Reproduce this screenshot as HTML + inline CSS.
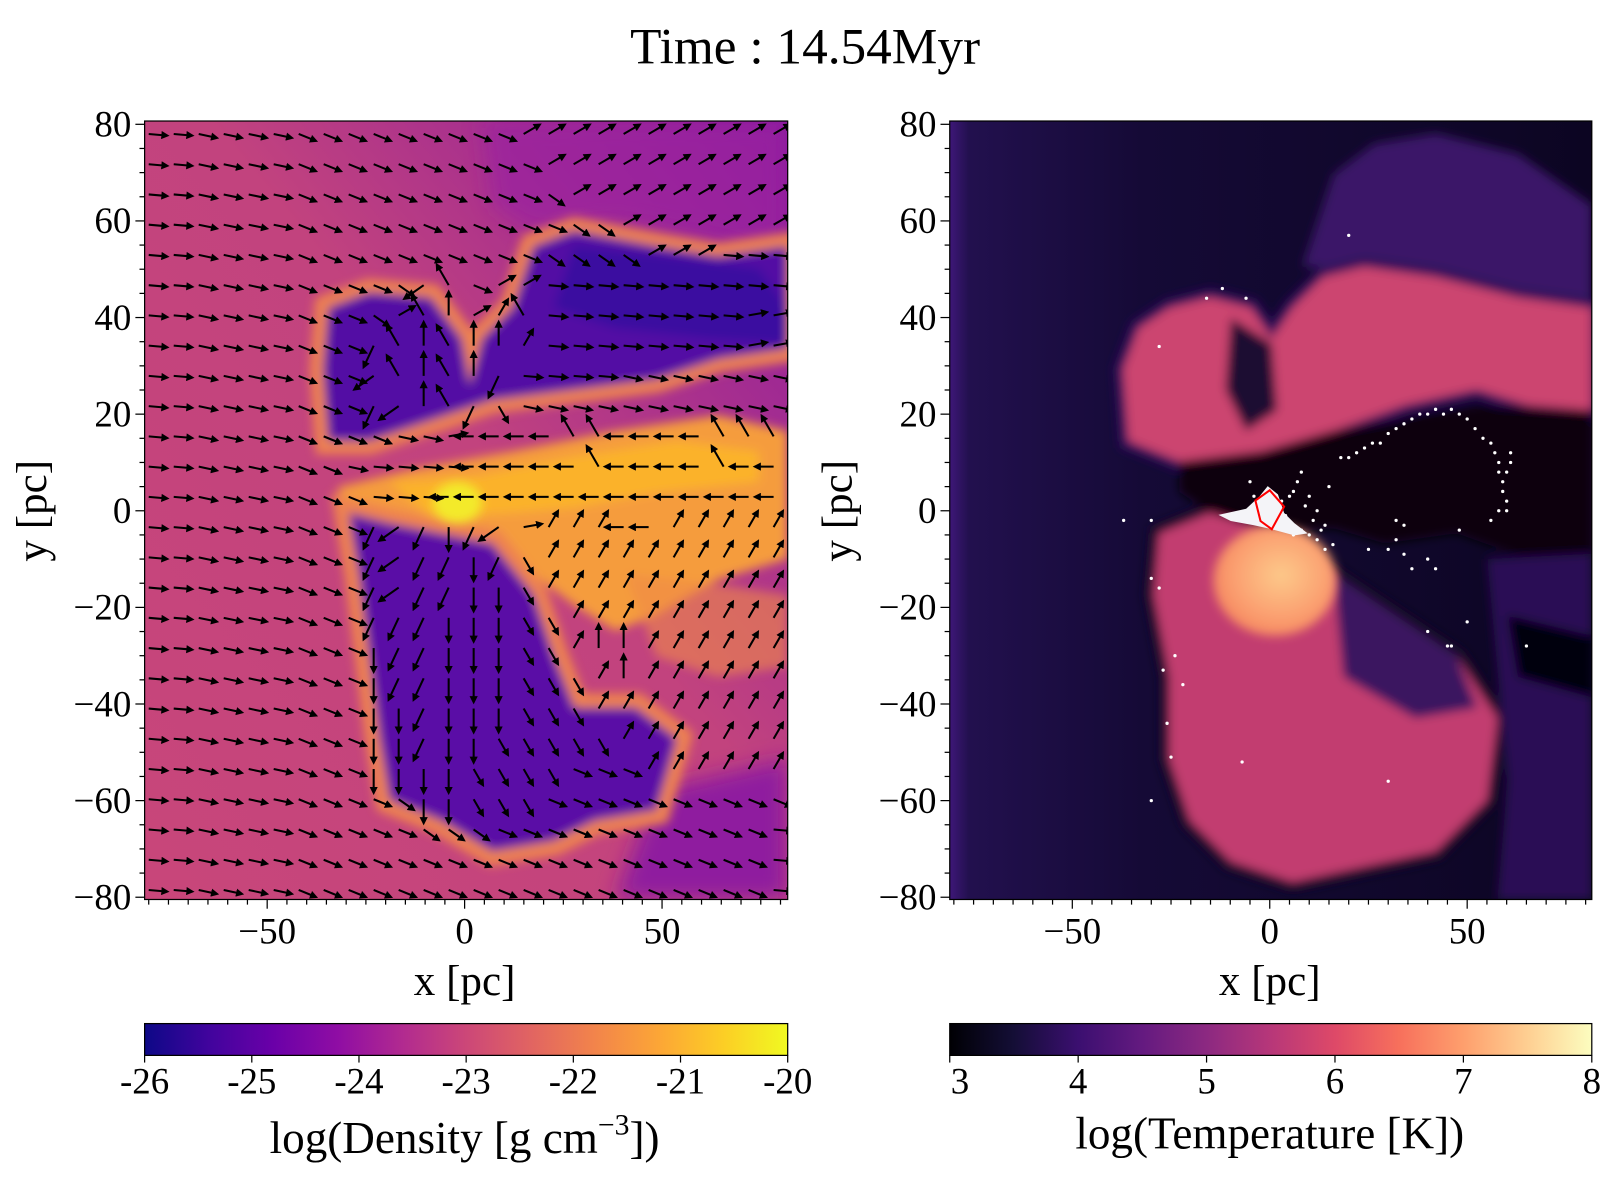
<!DOCTYPE html>
<html><head><meta charset="utf-8"><style>
html,body{margin:0;padding:0;background:#fff}
svg{display:block}
text{font-family:"Liberation Serif",serif;fill:#000}
</style></head><body>
<svg id="fig" width="1600" height="1200" viewBox="0 0 1560 1170" preserveAspectRatio="none" xmlns="http://www.w3.org/2000/svg">
<defs>
<filter id="bl" x="-20%" y="-20%" width="140%" height="140%"><feGaussianBlur stdDeviation="5"/></filter>
<filter id="bl2" x="-20%" y="-20%" width="140%" height="140%"><feGaussianBlur stdDeviation="10"/></filter>
<clipPath id="cl"><rect x="141" y="118" width="627" height="759"/></clipPath>
<clipPath id="cr"><rect x="926" y="118" width="626" height="759"/></clipPath>
<linearGradient id="plasma" x1="0" x2="1" y1="0" y2="0">
<stop offset="0" stop-color="#0d0887"/><stop offset=".1" stop-color="#41049d"/><stop offset=".2" stop-color="#6a00a8"/><stop offset=".3" stop-color="#8f0da4"/><stop offset=".4" stop-color="#b12a90"/><stop offset=".5" stop-color="#cc4778"/><stop offset=".6" stop-color="#e16462"/><stop offset=".7" stop-color="#f2844b"/><stop offset=".8" stop-color="#fca636"/><stop offset=".9" stop-color="#fcce25"/><stop offset="1" stop-color="#f0f921"/></linearGradient>
<linearGradient id="magma" x1="0" x2="1" y1="0" y2="0">
<stop offset="0" stop-color="#000004"/><stop offset=".1" stop-color="#140e36"/><stop offset=".2" stop-color="#3b0f70"/><stop offset=".3" stop-color="#641a80"/><stop offset=".4" stop-color="#8c2981"/><stop offset=".5" stop-color="#b73779"/><stop offset=".6" stop-color="#de4968"/><stop offset=".7" stop-color="#f7705c"/><stop offset=".8" stop-color="#fe9f6d"/><stop offset=".9" stop-color="#fecf92"/><stop offset="1" stop-color="#fcfdbf"/></linearGradient>
<linearGradient id="rbg" x1="0" x2="1" y1="0" y2="0">
<stop offset="0" stop-color="#3e1778"/><stop offset=".03" stop-color="#22104e"/><stop offset=".3" stop-color="#150a36"/><stop offset="1" stop-color="#0c0522"/></linearGradient>
<linearGradient id="lbg" x1="0" x2="1" y1="1" y2="0">
<stop offset="0" stop-color="#c8467a"/><stop offset=".55" stop-color="#c2437e"/><stop offset="1" stop-color="#8a1aa0"/></linearGradient>
<radialGradient id="sph" cx=".55" cy=".45" r=".6"><stop offset="0" stop-color="#fdc98a"/><stop offset=".6" stop-color="#fba272"/><stop offset="1" stop-color="#f5845e"/></radialGradient>
<marker id="ah" viewBox="0 0 10 10" refX="2" refY="5" markerWidth="4" markerHeight="4" orient="auto"><path d="M0,0L10,5L0,10z" fill="#000"/></marker>
</defs>

<text x="785" y="62" font-size="50" text-anchor="middle">Time : 14.54Myr</text>

<g clip-path="url(#cl)">
<rect x="141" y="118" width="627" height="759" fill="url(#lbg)"/>
<path d="M470,118 L768,118 L768,250 L690,230 L600,215 L520,225 L480,200 Z" fill="#9a22a0" filter="url(#bl2)" opacity=".7"/>
<path d="M640,770 L768,740 L768,877 L600,877 Z" fill="#8f1b9f" filter="url(#bl2)"/>
<g filter="url(#bl)">
<path d="M320,300 L360,285 L420,290 L450,330 L458,375 L470,330 L500,300 L520,240 L560,225 L640,240 L700,250 L768,240 L768,340 L700,350 L640,370 L560,380 L480,390 L420,410 L360,430 L320,430 L315,360 Z" fill="none" stroke="#ee8250" stroke-width="26"/>
<path d="M320,300 L360,285 L420,290 L450,330 L458,375 L470,330 L500,300 L520,240 L560,225 L640,240 L700,250 L768,240 L768,340 L700,350 L640,370 L560,380 L480,390 L420,410 L360,430 L320,430 L315,360 Z" fill="#5209a4"/>
<path d="M560,240 L650,250 L740,262 L768,300 L768,335 L690,330 L600,320 L540,300 Z" fill="#3a08a0"/>
<path d="M330,475 L400,458 L500,440 L600,420 L700,405 L768,420 L768,545 L700,565 L640,600 L600,615 L560,590 L520,560 L450,520 L380,505 L330,498 Z" fill="#f59c3c"/>
<path d="M380,470 L460,465 L560,445 L660,430 L740,440 L740,470 L640,480 L560,495 L500,500 L420,505 Z" fill="#fbb22c"/>
<path d="M340,500 L380,510 L430,520 L480,530 L520,580 L540,640 L560,690 L620,690 L660,720 L640,790 L580,800 L540,820 L480,830 L430,800 L380,780 L370,720 L360,640 L350,560 Z" fill="none" stroke="#ee8250" stroke-width="28"/>
<path d="M340,500 L380,510 L430,520 L480,530 L520,580 L540,640 L560,690 L620,690 L660,720 L640,790 L580,800 L540,820 L480,830 L430,800 L380,780 L370,720 L360,640 L350,560 Z" fill="#5a0aa6"/>
<path d="M610,560 L700,570 L768,580 L768,650 L700,660 L640,640 Z" fill="#f08a48" opacity=".6"/>
</g>
<ellipse cx="446" cy="490" rx="24" ry="20" fill="#f3ea2a" filter="url(#bl)"/>
<g id="arrows"></g>
</g>
<rect x="141" y="118" width="627" height="759" fill="none" stroke="#000" stroke-width="1.2"/>
<g id="laxes"></g>

<g clip-path="url(#cr)">
<rect x="926" y="118" width="626" height="759" fill="url(#rbg)"/>
<g filter="url(#bl)">
<path d="M1270,260 L1300,170 L1340,140 L1400,130 L1480,150 L1552,200 L1552,310 L1460,285 L1330,262 Z" fill="#3a1468"/>
<path d="M1100,430 L1095,360 L1110,320 L1140,300 L1180,290 L1220,300 L1240,330 L1260,300 L1290,270 L1330,260 L1400,270 L1480,290 L1552,300 L1552,400 L1490,395 L1440,380 L1370,395 L1300,420 L1230,440 L1150,450 Z" fill="none" stroke="#2b0f58" stroke-width="18"/>
<path d="M1100,430 L1095,360 L1110,320 L1140,300 L1180,290 L1220,300 L1240,330 L1260,300 L1290,270 L1330,260 L1400,270 L1480,290 L1552,300 L1552,400 L1490,395 L1440,380 L1370,395 L1300,420 L1230,440 L1150,450 Z" fill="#cc4470"/>
<path d="M1200,310 L1240,335 L1245,400 L1215,420 L1195,380 Z" fill="#1a0a33"/>
<path d="M1130,520 L1180,500 L1240,520 L1300,560 L1360,600 L1420,640 L1460,700 L1450,780 L1400,830 L1330,845 L1260,860 L1200,840 L1160,800 L1140,740 L1140,660 L1125,580 Z" fill="none" stroke="#150826" stroke-width="18"/>
<path d="M1130,520 L1180,500 L1240,520 L1300,560 L1360,600 L1420,640 L1460,700 L1450,780 L1400,830 L1330,845 L1260,860 L1200,840 L1160,800 L1140,740 L1140,660 L1125,580 Z" fill="#c23e70"/>
<path d="M1300,560 L1360,600 L1420,640 L1440,690 L1380,700 L1310,660 Z" fill="#3a1460"/>
<path d="M1150,450 L1230,440 L1300,420 L1380,405 L1450,395 L1552,400 L1552,540 L1490,545 L1420,520 L1350,530 L1300,515 L1240,520 L1180,500 L1150,480 Z" fill="#07030f"/>
<path d="M1450,545 L1552,540 L1552,877 L1460,877 L1470,760 Z" fill="#2a0f55"/>
<path d="M1470,600 L1552,620 L1552,680 L1480,660 Z" fill="#06030e"/>
</g>
<ellipse cx="1243" cy="566" rx="60" ry="54" fill="url(#sph)" filter="url(#bl)"/>
<g id="dots"></g>
<path d="M1238,478 L1252,494 L1240,516 L1229,508 L1224,488 Z" fill="none" stroke="#ff0000" stroke-width="2"/>
</g>
<rect x="926" y="118" width="626" height="759" fill="none" stroke="#000" stroke-width="1.2"/>
<g id="raxes"></g>

<rect x="141" y="998" width="627" height="31" fill="url(#plasma)" stroke="#000" stroke-width="1.2"/>
<rect x="926" y="998" width="626" height="31" fill="url(#magma)" stroke="#000" stroke-width="1.2"/>
<g id="cbars"></g>
<text x="453" y="1124" font-size="44" text-anchor="middle">log(Density [g cm<tspan dy="-18" font-size="29">−3</tspan><tspan dy="18">])</tspan></text>
<text x="1238" y="1120" font-size="44" text-anchor="middle">log(Temperature [K])</text>
</svg>
<script>
const NS="http://www.w3.org/2000/svg";
const codeAngles={a:5,b:12,c:22,e:35,q:60,d:90,D:115,W:145,w:180,N:-120,n:-90,U:-60,u:-30,f:-10};
const quiverRows=[
"aabbbbcccccccccuuuuuuuuuuu","aabbbbccccccccccuuuuuuuuuu","aabbbbcccccccccceuuuuuuuuu",
"aabbbbccccccccccceeuuuuuuu","aabbbbcccccccccceeeeuuuaaa","aabbbbcccceWNcuuaaaaaaaaaa",
"aabbbbccceuNnuUNaaaaaaaaff","aabbbbcccDNnNnnUaaaaaaaaff","aabbbbcccWNnNnDaaaabbbbbbb",
"aabbbbcccDWnNDqbbbbbbbbbbb","aabbbbccccbbfwwwwNNwwwwNNN","aabbbbccbaaaawwwwwNwwwwNww",
"aabbbbcccaaawwwwwwwwwwwwww","aabbbbcccDWDdDWfUUUwwUUUUU","aabbbbcccDWDDdDqUUUUUUUUUU",
"aabbbbcccDWDDddqUUUUUUUUUU","aabbbbcccDDDdddqqUUUUUUUUU","aabbbbcccdDDdddqqUnnUUUUUU",
"aabbbbcccdDDdddqqqUnUUUUUU","aabbbbcccddDdddqqqUUUUUUUU","aabbbbcccddDddqqqqqUUUUUUU",
"aabbbbcccddddqqqqcccUUUUUU","aabbbbcccceddqqqcccccccccc","aabbbbccccceeeccccccccccca",
"aabbbbccccccccccccccccccca","aabbbbccccccccccccccccccca"];
const quiverX0=-80, quiverDX=6.33;
const quiverY0=78, quiverDY=-6.26;
const starX=[-28,-24,-22,-16,-12,-6,-4,-2,0,1,2,3,4,5,6,7,8,9,10,11,12,13,14,15,6,8,10,12,14,16,18,20,22,24,26,28,30,32,34,36,38,40,42,44,46,48,50,52,54,56,57,58,58,59,59,60,60,61,61,60,58,56,48,40,36,34,32,30,-25,-26,-27,-28,-30,-30,-7,40,46,50,20,45,42,-37,-30,25,65,-5,30,34,32,35];
const starY=[34,-30,-36,44,46,44,3,-1,-2,1,-2,2,-1,3,4,6,8,1,3,-2,0,-4,-3,5,-5,-4,-5,-6,-8,-7,11,11,12,13,14,14,16,17,18,19,20,20,21,20,21,20,19,17,15,14,12,10,8,6,4,2,0,12,10,8,0,-2,-4,-10,-12,-3,-2,-56,-51,-44,-33,-16,-2,-60,-52,-25,-28,-23,57,-28,-12,-2,-14,-8,-28,6,-8,-9,-6];
const lx=x=>453+x*3.85, ly=y=>498-y*4.71;
const rx=x=>1238+x*3.85, ry=y=>498-y*4.71;
const arrows=document.getElementById('arrows');
quiverRows.forEach((row,r)=>{[...row].forEach((ch,c)=>{
  const a=codeAngles[ch]*Math.PI/180, L=(ch==='D'||ch==='W'||ch==='d'||ch==='N'||ch==='n')?19:14;
  const x0=lx(quiverX0+c*quiverDX), y0=ly(quiverY0+r*quiverDY);
  const ln=document.createElementNS(NS,'line');
  
  
  ln.setAttribute('x1',x0);ln.setAttribute('y1',y0);
  ln.setAttribute('x2',x0+L*Math.cos(a));ln.setAttribute('y2',y0+L*Math.sin(a));
  ln.setAttribute('stroke','#000');ln.setAttribute('stroke-width','2');ln.setAttribute('marker-end','url(#ah)');
  arrows.appendChild(ln);
});});
const dots=document.getElementById('dots');
starX.forEach((x,i)=>{
  const c=document.createElementNS(NS,'circle');
  
  
  c.setAttribute('cx',rx(x));c.setAttribute('cy',ry(starY[i]));c.setAttribute('r',1.6);c.setAttribute('fill','#fff');
  dots.appendChild(c);
});
const blob=document.createElementNS(NS,'path');


blob.setAttribute('d','M1188,502 L1215,496 L1228,484 L1236,474 L1246,482 L1252,500 L1262,510 L1275,520 L1262,522 L1240,516 L1222,512 L1200,508 Z');
blob.setAttribute('fill','#f4f4f8');
dots.appendChild(blob);

function txt(p,x,y,s,size,anchor,name){const t=document.createElementNS(NS,'text');t.setAttribute('x',x);t.setAttribute('y',y);t.setAttribute('font-size',size);t.setAttribute('text-anchor',anchor);t.textContent=s;


p.appendChild(t);return t;}
function tick(p,x1,y1,x2,y2){const l=document.createElementNS(NS,'line');l.setAttribute('x1',x1);l.setAttribute('y1',y1);l.setAttribute('x2',x2);l.setAttribute('y2',y2);l.setAttribute('stroke','#000');l.setAttribute('stroke-width','1.2');


p.appendChild(l);}
const yTicks=[80,60,40,20,0,-20,-40,-60,-80];
const yTickLabels=["80","60","40","20","0","\u221220","\u221240","\u221260","\u221280"];
const xTicks=[-50,0,50];
const xTickLabels=["\u221250","0","50"];
function axes(g,fx,left,cx){
  for(let v=-80;v<=80;v+=5){const y=ly(v);tick(g,left,y,left-(v%20===0?9:5),y);}
  for(let v=-80;v<=80;v+=5){const x=fx(v);if(x>=left&&x<=left+627)tick(g,x,877,x,877+(v%50===0?9:5));}
  yTicks.forEach((v,i)=>txt(g,left-13,ly(v)+12,yTickLabels[i],36,'end','y-tick-label'));
  xTicks.forEach((v,i)=>txt(g,fx(v),920,xTickLabels[i],36,'middle','x-tick-label'));
  txt(g,cx,970,'x [pc]',42,'middle','x-axis-title');
  const t=txt(g,0,0,'y [pc]',42,'middle','y-axis-title');
  t.setAttribute('transform','translate('+(left-96)+',498) rotate(-90)');
}
axes(document.getElementById('laxes'),lx,141,453);
axes(document.getElementById('raxes'),rx,926,1238);
const densTicks=[-26,-25,-24,-23,-22,-21,-20];
const tempTicks=[3,4,5,6,7,8];
const cb=document.getElementById('cbars');
densTicks.forEach(v=>{const x=141+(v+26)/6*627;tick(cb,x,1029,x,1036);txt(cb,x,1066,String(v),36,'middle','density-colorbar-tick');});
tempTicks.forEach(v=>{const x=926+(v-3)/5*626;tick(cb,x,1029,x,1036);txt(cb,x+(v===3?10:0),1066,String(v),36,'middle','temperature-colorbar-tick');});
</script>
</body></html>
